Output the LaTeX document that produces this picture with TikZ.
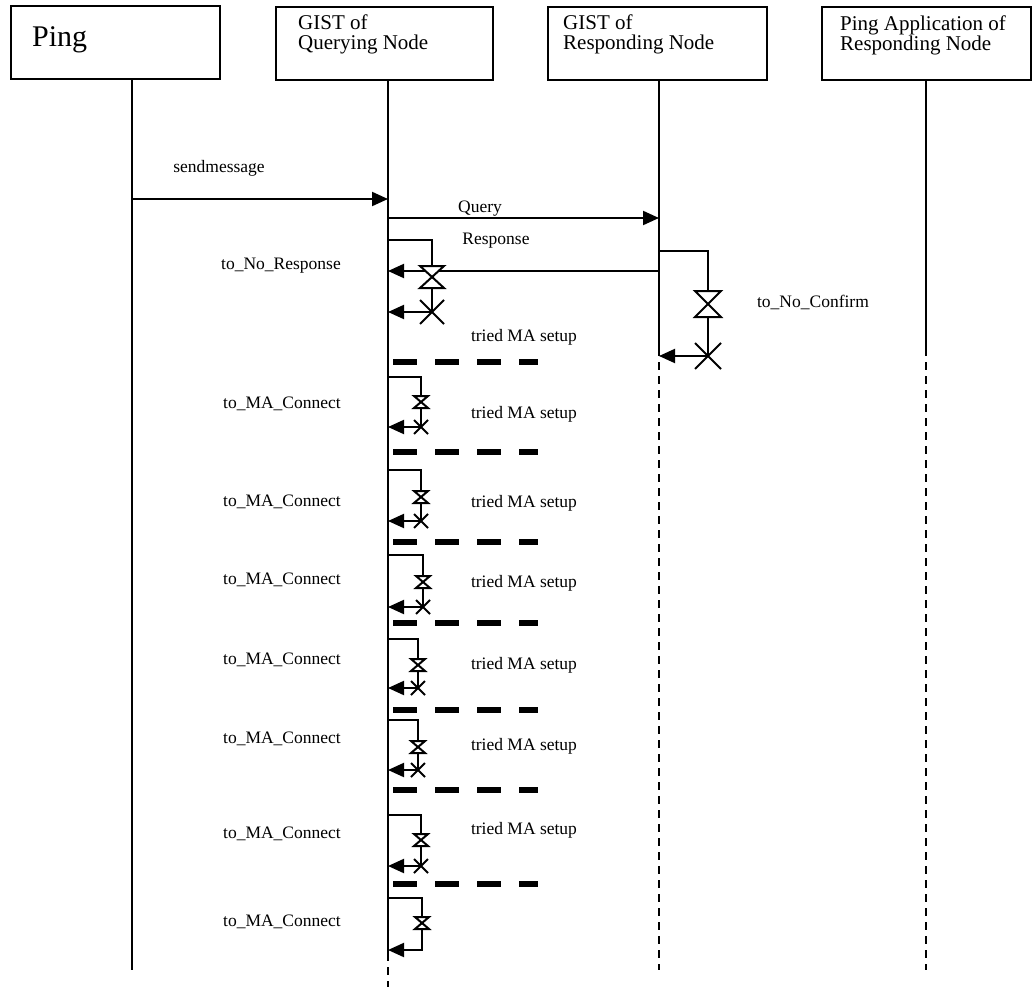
\documentclass[tikz,border=0pt]{standalone}
\usepackage{fontspec}
\setmainfont{Liberation Serif}
\usetikzlibrary{arrows.meta,positioning}

% timer symbols
\newcommand{\sandglass}[3]{\draw[tmr,fill=white,shift={(#1)}] (-#2,-#3) -- (#2,-#3) -- (-#2,#3) -- (#2,#3) -- cycle;}
\newcommand{\expiry}[2]{\draw[tmr,shift={(#1)}] (-#2,-#2) -- (#2,#2) (-#2,#2) -- (#2,-#2);}

\begin{document}
\begin{tikzpicture}[x=1pt,y=-1pt,>={Triangle[length=16pt,width=14pt]},
  every node/.style={font=\fontsize{17.5}{19}\selectfont},
  box/.style={draw,line width=2.4pt,minimum height=73pt,inner sep=0pt},
  head/.style={anchor=north west,align=left,inner sep=0pt,font=\fontsize{21}{20}\selectfont},
  life/.style={line width=2pt},
  gone/.style={line width=2pt,dash pattern=on 8pt off 6pt},
  msg/.style={line width=2pt,->},
  tmr/.style={line width=2pt},
  sep/.style={line width=6pt,dash pattern=on 24pt off 18pt}]
\useasboundingbox (0,0) rectangle (1033,987);

% heads
\node[box,minimum width=209pt] (ping) at (115.5,42.5) {};
\node[box,minimum width=217pt] (gq) at (384.5,43.5) {};
\node[box,minimum width=219pt] (gr) at (657.5,43.5) {};
\node[box,minimum width=209pt] (app) at (926.5,43.5) {};
\node[anchor=base west,inner sep=0pt,font=\fontsize{30}{30}\selectfont] (pingT) at (32,47) {Ping};
\node[head] (gqT) at (298,15) {GIST of\\Querying Node};
\node[head] (grT) at (563,15) {GIST of\\Responding Node};
\node[head] (appT) at (840,16) {Ping Application of\\Responding Node};

% lifelines
\coordinate (pingB) at (132,970);
\coordinate (gqS) at (388,953);
\coordinate (gqB) at (388,987);
\coordinate (grS) at (659,348);
\coordinate (grB) at (659,970);
\coordinate (appS) at (926,348);
\coordinate (appB) at (926,970);
\draw[life] (ping.south -| pingB) -- (pingB);
\draw[life] (gq.south -| gqS) -- (gqS);
\draw[gone] (gqS) -- (gqB);
\draw[life] (gr.south -| grS) -- (grS);
\draw[gone] (grS) -- (grB);
\draw[life] (app.south -| appS) -- (appS);
\draw[gone] (appS) -- (appB);

% messages
\coordinate (m1) at (132,199);
\coordinate (m2) at (388,218);
\coordinate (m3) at (659,271);
\draw[msg] (m1) -- (m1 -| gqS);
\draw[msg] (m2) -- (m2 -| grS);
\draw[msg] (m3) -- (m3 -| gqS);
\node (sendL) at (219,168) {sendmessage};
\node (queryL) at (480,209) {Query};
\node (respL) at (496,241) {Response};

% to_No_Response
\coordinate (r0) at (388,240);
\coordinate (rh) at (432,277);
\coordinate (rx) at (432,312);
\draw[tmr] (r0) -| (rx);
\sandglass{rh}{12}{11}
\expiry{rx}{12}
\draw[msg] (rx) -- (rx -| gqS);
\node (noRespL) at (281,266) {to\_No\_Response};
\node (try0) at (524,337) {tried MA setup};
\coordinate (d0) at (393,362);
\draw[sep] (d0) -- ++(145,0);

% to_No_Confirm
\coordinate (c0) at (659,251);
\coordinate (ch) at (708,304);
\coordinate (cx) at (708,356);
\draw[tmr] (c0) -| (cx);
\sandglass{ch}{13}{13}
\expiry{cx}{13}
\draw[msg] (cx) -- (cx -| grS);
\node (noConfL) at (813,302) {to\_No\_Confirm};

% to_MA_Connect retries
\foreach \ya/\yh/\yx/\xt/\yl/\yt/\yd [count=\i] in
  {377/402/427/421/404/414/452, 470/497/521/421/502/503/542,
   555/582/607/423/580/583/623, 639/665/688/418/660/665/710,
   720/747/770/418/739/746/790, 815/840/866/421/834/830/884}{
  \coordinate (a\i) at (388,\ya);
  \coordinate (h\i) at (\xt,\yh);
  \coordinate (x\i) at (\xt,\yx);
  \draw[tmr] (a\i) -| (x\i);
  \sandglass{h\i}{7}{6}
  \expiry{x\i}{7}
  \draw[msg] (x\i) -- (x\i -| gqS);
  \node (ma\i) at (282,\yl) {to\_MA\_Connect};
  \node (try\i) at (524,\yt) {tried MA setup};
  \coordinate (d\i) at (393,\yd);
  \draw[sep] (d\i) -- ++(145,0);
}
\coordinate (a7) at (388,898);
\coordinate (h7) at (422,923);
\coordinate (e7) at (422,950);
\draw[msg] (a7) -| (e7) -- (e7 -| gqS);
\sandglass{h7}{7}{6}
\node (ma7) at (282,922) {to\_MA\_Connect};
\end{tikzpicture}
\end{document}
